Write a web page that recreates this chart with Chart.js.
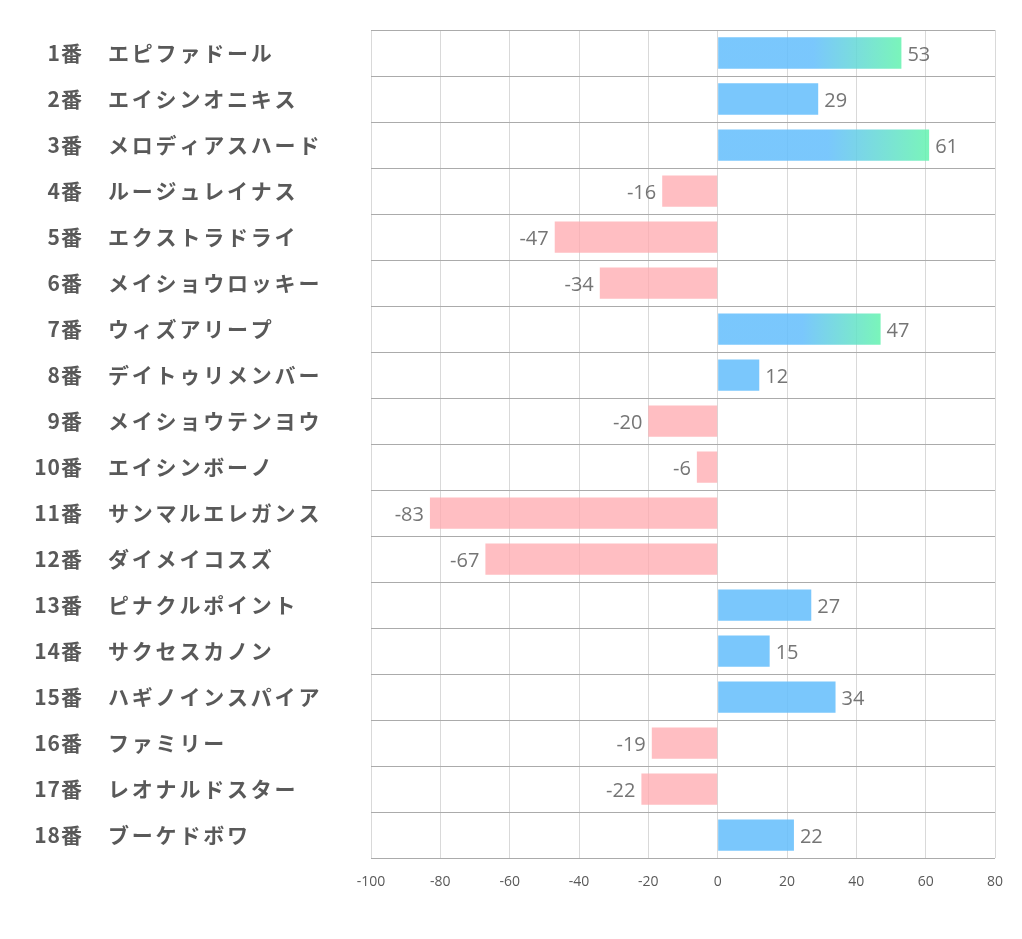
<!DOCTYPE html>
<html><head><meta charset="utf-8">
<script src="https://cdn.jsdelivr.net/npm/chart.js@4/dist/chart.umd.min.js"></script>
<style>html,body{margin:0;padding:0;background:#fff}#wrap{width:1022px;height:939px}</style>
</head><body><div id="wrap"><canvas id="c" width="1022" height="939"></canvas></div>
<script>
const numbers = ["1番","2番","3番","4番","5番","6番","7番","8番","9番","10番","11番","12番","13番","14番","15番","16番","17番","18番"];
const horses = ["エピファドール","エイシンオニキス","メロディアスハード","ルージュレイナス","エクストラドライ","メイショウロッキー","ウィズアリープ","デイトゥリメンバー","メイショウテンヨウ","エイシンボーノ","サンマルエレガンス","ダイメイコスズ","ピナクルポイント","サクセスカノン","ハギノインスパイア","ファミリー","レオナルドスター","ブーケドボワ"];
const values = [53,29,61,-16,-47,-34,47,12,-20,-6,-83,-67,27,15,34,-19,-22,22];
const xTicks = [-100,-80,-60,-40,-20,0,20,40,60,80];
const highlightMin = 40;

const BLUE = 'rgba(100,190,252,0.86)';
const GREEN = 'rgba(100,243,175,0.86)';
const PINK = 'rgba(255,168,173,0.75)';

function barColor(ctx){
  const v = values[ctx.dataIndex];
  if (v < 0) return PINK;
  if (v < highlightMin) return BLUE;
  const chart = ctx.chart;
  if (!chart.chartArea || !chart.scales.x) return BLUE;
  const x0 = chart.scales.x.getPixelForValue(0);
  const x1 = chart.scales.x.getPixelForValue(v);
  const g = chart.ctx.createLinearGradient(x0,0,x1,0);
  g.addColorStop(0,BLUE); g.addColorStop(0.52,BLUE); g.addColorStop(1,GREEN);
  return g;
}

const labelPlugin = {
  id:'labels',
  afterDraw(chart){
    const c = chart.ctx, y = chart.scales.y, x = chart.scales.x;
    c.save();
    c.textBaseline='middle';
    numbers.forEach((n,i)=>{
      const py = y.getPixelForValue(i);
      c.fillStyle='#595959';
      c.font='bold 21px "Noto Sans CJK JP"';
      c.letterSpacing='1px';
      c.textAlign='right';
      c.fillText(n,83,py);
      c.letterSpacing='2.8px';
      c.textAlign='left';
      c.fillText(horses[i],108,py);
    });
    c.letterSpacing='0px';
    c.font='20px "Open Sans"';
    c.fillStyle='#757575';
    values.forEach((v,i)=>{
      const py = y.getPixelForValue(i)+2;
      const px = x.getPixelForValue(v);
      if (v>=0){ c.textAlign='left'; c.fillText(String(v),px+6,py); }
      else { c.textAlign='right'; c.fillText(String(v),px-6,py); }
    });
    c.restore();
  }
};

new Chart(document.getElementById('c'),{
  type:'bar',
  data:{labels:horses,datasets:[{data:values,backgroundColor:barColor,borderWidth:0,barPercentage:0.68,categoryPercentage:1}]},
  options:{
    indexAxis:'y',responsive:false,animation:false,
    layout:{padding:{left:371,right:27,top:30,bottom:34}},
    plugins:{legend:{display:false},tooltip:{enabled:false}},
    scales:{
      x:{min:-100,max:80,
        afterBuildTicks(s){s.ticks=xTicks.map(v=>({value:v}));},
        grid:{color:'#d9d9d9',lineWidth:1,drawTicks:false},
        border:{display:false},
        ticks:{color:'#595959',font:{family:'Open Sans',size:14},padding:15}},
      y:{grid:{color:'#ababab',lineWidth:1,offset:true,drawTicks:false},
        border:{display:false},
        ticks:{display:false}}
    }
  },
  plugins:[labelPlugin]
});
</script></body></html>
